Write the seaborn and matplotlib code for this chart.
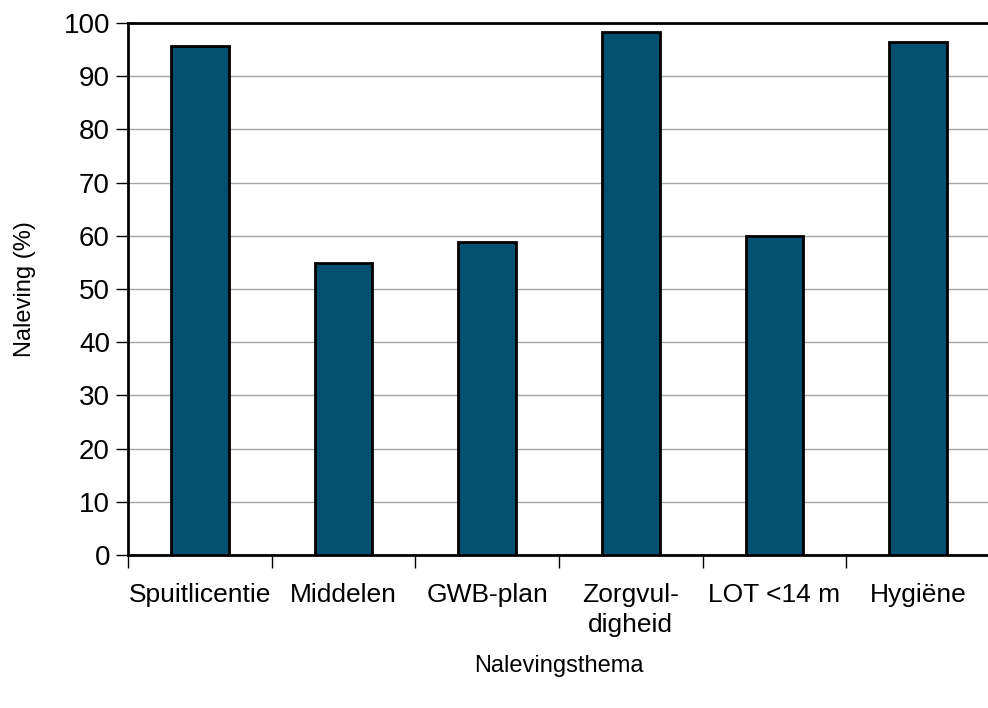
import matplotlib
matplotlib.use("Agg")
import matplotlib.pyplot as plt
import seaborn as sns
import pandas as pd
from matplotlib.ticker import FixedLocator

categories = ["Spuitlicentie", "Middelen", "GWB-plan", "Zorgvul-\ndigheid", "LOT <14 m", "Hygiëne"]
values = [95.7, 54.8, 58.8, 98.4, 60.0, 96.4]
yticks = [0, 10, 20, 30, 40, 50, 60, 70, 80, 90, 100]

sns.set_theme(style="white")
plt.rcParams["font.family"] = ["Liberation Sans Narrow", "Liberation Sans", "DejaVu Sans"]
plt.rcParams["text.color"] = "black"

df = pd.DataFrame({"cat": categories, "val": values})

fig = plt.figure(figsize=(9.88, 7.08), dpi=100)
ax = fig.add_axes([128/988, (708-555)/708, 1 - 128/988 + 0.002, (555-23)/708])

sns.barplot(data=df, x="cat", y="val", color="#02506F", saturation=1,
            width=0.4, edgecolor="black", linewidth=2, ax=ax, zorder=3)

ax.set_ylim(0, 100)
ax.set_xlim(-0.5, len(categories) - 0.5)
ax.set_yticks(yticks)
ax.yaxis.grid(True, color="#a6a6a6", linewidth=1, zorder=0)
ax.set_axisbelow(True)

ax.set_xticks(range(len(categories)))
ax.set_xticklabels(categories, linespacing=1.35)
ax.xaxis.set_minor_locator(FixedLocator([i - 0.5 for i in range(len(categories) + 1)]))
ax.tick_params(axis="x", which="major", length=0, labelsize=19, pad=20, labelcolor="black")
ax.tick_params(axis="x", which="minor", length=9, width=1, color="black", direction="out", bottom=True)
ax.tick_params(axis="y", length=9, width=1, color="black", direction="out", labelsize=20,
               left=True, pad=4, labelcolor="black")

for s in ["left", "bottom", "top"]:
    ax.spines[s].set_visible(True)
    ax.spines[s].set_color("black")
    ax.spines[s].set_linewidth(2)
ax.spines["right"].set_visible(False)

ax.set_xlabel("Nalevingsthema", fontsize=17, labelpad=13, color="black")
ax.set_ylabel("Naleving (%)", fontsize=17, labelpad=20, color="black")

fig.savefig("out.png", dpi=100)
